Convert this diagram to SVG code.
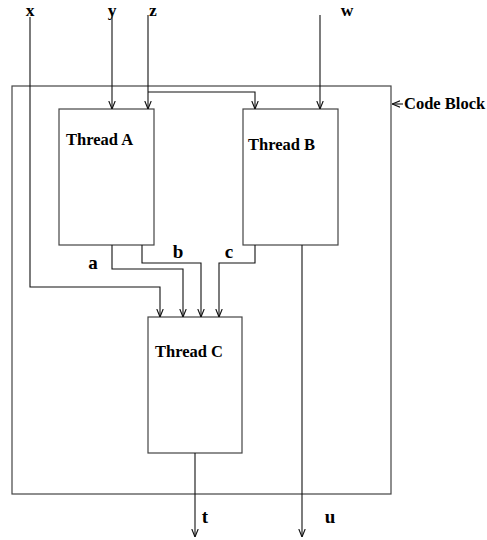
<svg xmlns="http://www.w3.org/2000/svg" width="487" height="540" viewBox="0 0 487 540">
<style>
.box{fill:none;stroke:#444;stroke-width:1.2}
.ln{fill:none;stroke:#111;stroke-width:1.1}
.lbl{font-family:"Liberation Serif",serif;font-weight:bold;font-size:19px;fill:#000;text-anchor:middle}
.top{font-size:17.5px}
.tl{font-family:"Liberation Serif",serif;font-weight:bold;font-size:16.5px;fill:#000}
</style>
<defs>
<marker id="ah" viewBox="0 0 10 10" refX="10" refY="5" markerWidth="8" markerHeight="8" markerUnits="userSpaceOnUse" orient="auto">
<polyline points="0,1 10,5 0,9" fill="none" stroke="#111" stroke-width="1.4"/>
</marker>
</defs>
<g id="codeblock">
<rect class="box" x="12" y="86" width="379" height="408"/>
<text class="tl" x="404" y="109" font-size="17">Code Block</text>
</g>
<g id="threadA">
<rect class="box" x="59" y="109" width="95" height="136"/>
<text class="tl" x="66" y="145">Thread A</text>
</g>
<g id="threadB">
<rect class="box" x="243" y="109" width="95" height="136"/>
<text class="tl" x="248" y="150">Thread B</text>
</g>
<g id="threadC">
<rect class="box" x="148" y="317" width="94" height="136"/>
<text class="tl" x="155" y="357">Thread C</text>
</g>
<g id="labels">
<text class="lbl top" x="30" y="16">x</text>
<text class="lbl top" x="112" y="16">y</text>
<text class="lbl top" x="153" y="16">z</text>
<text class="lbl top" x="347" y="16">w</text>
<text class="lbl" x="93" y="269">a</text>
<text class="lbl" x="178" y="258">b</text>
<text class="lbl" x="229" y="258">c</text>
<text class="lbl" x="205" y="523">t</text>
<text class="lbl" x="330" y="523">u</text>
</g>
<g id="connectors">
<polyline class="ln" points="30,17 30,287 160,287 160,317" marker-end="url(#ah)"/>
<polyline class="ln" points="112,14 112,109" marker-end="url(#ah)"/>
<polyline class="ln" points="148,15 148,109" marker-end="url(#ah)"/>
<polyline class="ln" points="148,92 255,92 255,109" marker-end="url(#ah)"/>
<polyline class="ln" points="320,15 320,109" marker-end="url(#ah)"/>
<polyline class="ln" points="112,245 112,269 183,269 183,317" marker-end="url(#ah)"/>
<polyline class="ln" points="142,245 142,263 201,263 201,317" marker-end="url(#ah)"/>
<polyline class="ln" points="255,245 255,263 219,263 219,317" marker-end="url(#ah)"/>
<polyline class="ln" points="195,453 195,537" marker-end="url(#ah)"/>
<polyline class="ln" points="302,245 302,537" marker-end="url(#ah)"/>
<polyline class="ln" points="403,104 392,104" marker-end="url(#ah)"/>
</g>
</svg>
